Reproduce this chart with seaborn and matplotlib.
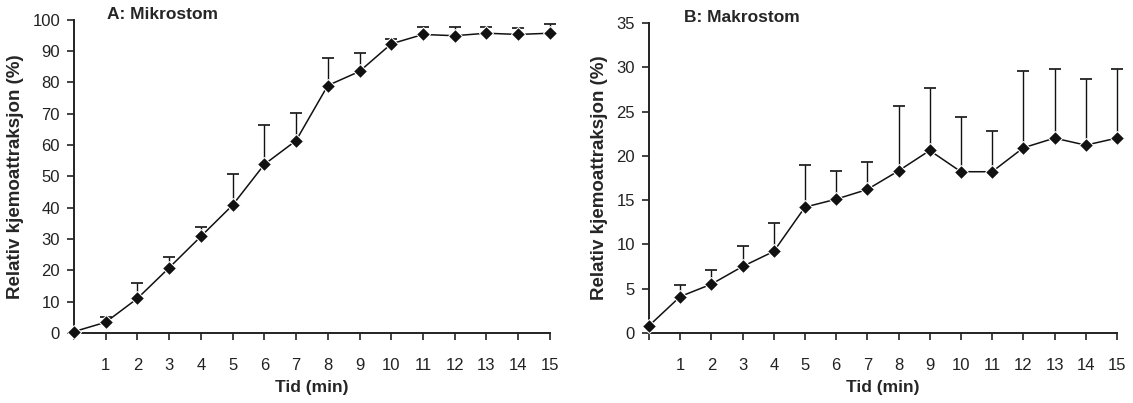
import numpy as np
import pandas as pd
import seaborn as sns
import matplotlib.pyplot as plt

# Data
tid = list(range(16))
mikro_mean = [0.4, 3.4, 11.0, 20.8, 30.8, 40.8, 53.8, 61.4, 79.0, 83.5, 92.3, 95.3, 94.9, 95.7, 95.3, 95.7]
mikro_top = [0.4, 5.0, 16.0, 24.3, 33.8, 50.8, 66.4, 70.3, 87.9, 89.4, 93.8, 97.8, 97.8, 97.8, 97.4, 98.7]
makro_mean = [0.8, 4.1, 5.5, 7.5, 9.2, 14.2, 15.1, 16.2, 18.3, 20.6, 18.2, 18.2, 20.9, 22.0, 21.2, 22.0]
makro_top = [0.8, 5.4, 7.1, 9.8, 12.4, 19.0, 18.3, 19.3, 25.6, 27.6, 24.4, 22.8, 29.6, 29.8, 28.7, 29.8]

sns.set_style("ticks")
plt.rcParams['font.family'] = ['Liberation Sans', 'DejaVu Sans']

fig = plt.figure(figsize=(11.33, 4.03), dpi=100)
ax1 = fig.add_axes([0.0653, 0.174, 0.420, 0.777])
ax2 = fig.add_axes([0.5728, 0.174, 0.413, 0.769])


def panel(ax, mean, top, ymax, ystep, title, tx, ty):
    df = pd.DataFrame({"tid": tid, "verdi": mean})
    err = np.array(top) - np.array(mean)
    ax.errorbar(tid, mean, yerr=[np.zeros(len(err)), err], fmt="none",
                ecolor="#111111", elinewidth=1, capsize=4.5, capthick=1.2,
                zorder=1, clip_on=False)
    sns.lineplot(data=df, x="tid", y="verdi", ax=ax, color="#111111",
                 marker="D", markersize=7, linewidth=1.1, zorder=3,
                 clip_on=False)
    ax.set_xlim(0, 15)
    ax.set_ylim(0, ymax)
    ax.set_xticks(range(16))
    ax.set_xticklabels([""] + [str(i) for i in range(1, 16)])
    ax.set_yticks(np.arange(0, ymax + 0.1, ystep))
    ax.tick_params(axis="both", labelsize=12, direction="out", length=5,
                   width=1.2, color="#222222", labelcolor="#222222")
    ax.tick_params(axis="x", pad=13)
    ax.tick_params(axis="y", pad=5)
    ax.set_xlabel("Tid (min)", fontsize=12.5, fontweight="bold", labelpad=5)
    ax.set_ylabel("Relativ kjemoattraksjon (%)", fontsize=13.5,
                  fontweight="bold", labelpad=6)
    ax.text(tx, ty, title, transform=ax.transAxes, fontsize=12.5,
            fontweight="bold", va="center", ha="left")
    sns.despine(ax=ax)
    for s in ["left", "bottom"]:
        ax.spines[s].set_linewidth(1.4)
        ax.spines[s].set_color("#222222")


panel(ax1, mikro_mean, mikro_top, 100, 10, "A: Mikrostom", 0.069, 1.016)
panel(ax2, makro_mean, makro_top, 35, 5, "B: Makrostom", 0.075, 1.019)

fig.savefig("out.png", dpi=100)
